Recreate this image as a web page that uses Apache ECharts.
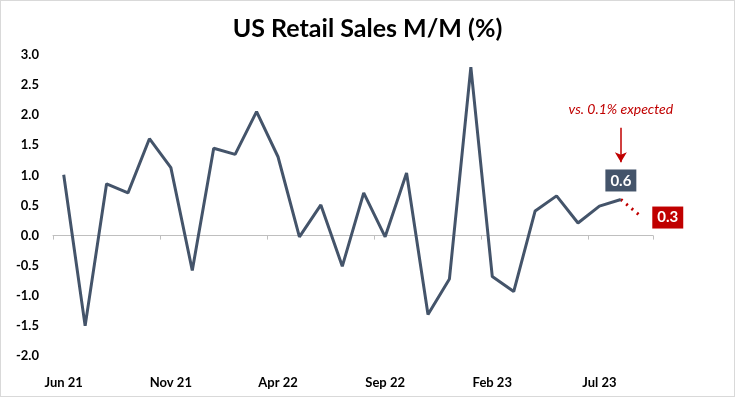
<!DOCTYPE html>
<html>
<head>
<meta charset="utf-8">
<script src="https://cdn.jsdelivr.net/npm/echarts@6/dist/echarts.min.js"></script>
<style>
  html, body { margin: 0; padding: 0; background: #fff; }
  #chart { width: 733px; height: 395px; border: 1px solid #d9d9d9; }
</style>
</head>
<body>
<div id="chart"></div>
<script>
// monthly retail sales change, % m/m
var months = ['Jun 21', 'Jul 21', 'Aug 21', 'Sep 21', 'Oct 21', 'Nov 21', 'Dec 21',
  'Jan 22', 'Feb 22', 'Mar 22', 'Apr 22', 'May 22', 'Jun 22', 'Jul 22', 'Aug 22',
  'Sep 22', 'Oct 22', 'Nov 22', 'Dec 22', 'Jan 23', 'Feb 23', 'Mar 23', 'Apr 23',
  'May 23', 'Jun 23', 'Jul 23', 'Aug 23', 'Sep 23'];
var actual = [1.01, -1.5, 0.86, 0.71, 1.61, 1.13, -0.58, 1.45, 1.35, 2.06, 1.31, -0.02,
  0.51, -0.51, 0.71, -0.02, 1.04, -1.31, -0.72, 2.8, -0.68, -0.93, 0.41, 0.66, 0.21,
  0.49, 0.6, '-'];
var latest = ['-', '-', '-', '-', '-', '-', '-', '-', '-', '-', '-', '-', '-', '-', '-',
  '-', '-', '-', '-', '-', '-', '-', '-', '-', '-', '-', 0.6, 0.3];
var expectedText = 'vs. 0.1% expected';

var slate = '#44546A';
var red = '#C00000';
var font = 'Lato, "Open Sans", sans-serif';

var lastIdx = 26;

function boxLabel(bg, pos, dist) {
  return {
    show: true, position: pos, distance: dist,
    formatter: function (p) { return p.value.toFixed(1); },
    backgroundColor: bg, color: '#fff',
    fontFamily: font, fontWeight: 'bold', fontSize: 15,
    padding: [4, 5, 3, 5]
  };
}

var chart = echarts.init(document.getElementById('chart'));
chart.setOption({
  animation: false,
  title: {
    text: 'US Retail Sales M/M (%)',
    left: 'center',
    top: 10,
    textStyle: { fontFamily: font, fontWeight: 'bold', fontSize: 25, color: '#000' }
  },
  grid: { left: 52, right: 81, top: 54, bottom: 40 },
  xAxis: [{
    type: 'category',
    data: months,
    boundaryGap: true,
    axisLine: { show: false, onZero: false },
    axisTick: { show: false },
    axisLabel: {
      interval: 4, margin: 20,
      fontFamily: font, fontWeight: 'bold', fontSize: 13, color: '#000'
    }
  }, {
    type: 'category',
    data: months,
    position: 'bottom',
    boundaryGap: true,
    axisLine: { show: true, onZero: true, lineStyle: { color: '#bfbfbf', width: 1 } },
    axisTick: { show: true, interval: 4, length: 4, inside: false, lineStyle: { color: '#bfbfbf' } },
    axisLabel: { show: false }
  }],
  yAxis: {
    type: 'value',
    min: -2, max: 3, interval: 0.5,
    splitLine: { show: false },
    axisLine: { show: false },
    axisTick: { show: false },
    axisLabel: {
      margin: 14,
      fontFamily: font, fontWeight: 'bold', fontSize: 13, color: '#000',
      formatter: function (v) { return v.toFixed(1); }
    }
  },
  series: [{
    type: 'line',
    data: actual.map(function (v, i) {
      if (i !== lastIdx) return v;
      return { value: v, label: boxLabel(slate, 'top', 8) };
    }),
    symbol: 'circle',
    symbolSize: 0,
    showSymbol: true,
    lineStyle: { color: slate, width: 3 },
    markLine: {
      silent: true,
      symbol: ['none', 'arrow'],
      symbolSize: [9, 10],
      lineStyle: { color: red, width: 1.5, type: 'solid' },
      label: { show: false },
      data: [[{ coord: [lastIdx, 1.79] }, { coord: [lastIdx, 1.22] }]]
    },
    markPoint: {
      silent: true,
      symbol: 'rect', symbolSize: 1,
      itemStyle: { color: 'rgba(0,0,0,0)' },
      label: {
        show: true, position: 'inside',
        formatter: expectedText,
        color: red, fontFamily: font, fontStyle: 'italic', fontSize: 14
      },
      data: [{ coord: [lastIdx, 2.09] }]
    }
  }, {
    type: 'line',
    data: latest.map(function (v, i) {
      if (i !== lastIdx + 1) return v;
      return { value: v, label: boxLabel(red, 'right', 10) };
    }),
    symbol: 'circle',
    symbolSize: 0,
    showSymbol: true,
    lineStyle: { color: red, width: 3, type: [2, 5] },
    z: 1
  }]
});
</script>
</body>
</html>
